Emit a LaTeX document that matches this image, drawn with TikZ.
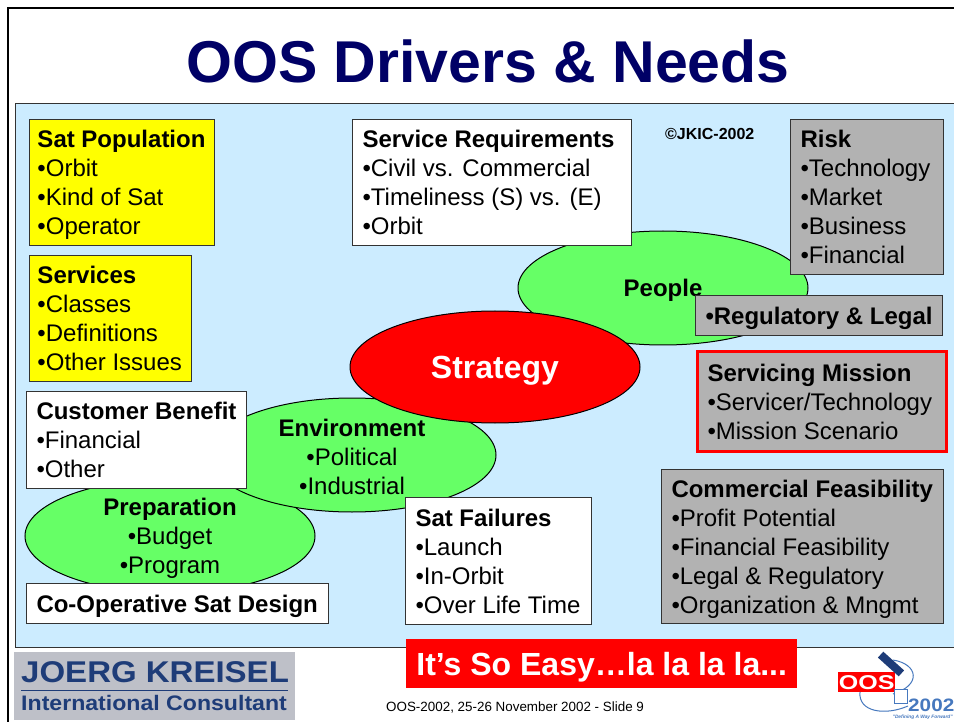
\documentclass[tikz,border=0pt]{standalone}
\usepackage{fontspec}
\setmainfont{Liberation Sans}
\usetikzlibrary{shapes.geometric,positioning}
\definecolor{panelblue}{RGB}{204,236,255}
\definecolor{slidegreen}{RGB}{102,255,102}
\definecolor{slideyellow}{RGB}{255,255,0}
\definecolor{boxgray}{RGB}{178,178,178}
\definecolor{titlenavy}{RGB}{0,0,102}
\definecolor{logogray}{RGB}{190,192,200}
\definecolor{logoblue}{RGB}{30,60,120}
\definecolor{oosblue}{RGB}{70,120,190}
\newcommand{\bodyfont}{\fontsize{24}{29}\selectfont}
\newcommand{\boxhead}[2]{\makebox[#1][l]{\textbf{#2}}}
\begin{document}
\begin{tikzpicture}[ x=1pt,y=-1pt,
            every node/.style={inner sep=0pt,font=\bodyfont},
            textbox/.style={draw=black!80,line width=1pt,anchor=north west,align=left,
              inner xsep=10pt,text depth=0pt},
            yellowbox/.style={textbox,fill=slideyellow,inner xsep=8pt},
            whitebox/.style={textbox,fill=white},
            graybox/.style={textbox,fill=boxgray},
            oval/.style={ellipse,draw=black,line width=1pt,fill=slidegreen},
            ovaltext/.style={align=center,yshift=-2pt}
            ]
            \useasboundingbox (0,0) rectangle (954,722);
            \clip (0,0) rectangle (954,722);
            \fill[white] (0,0) rectangle (954,722);
            \draw[line width=2pt] (8,730) -- (8,8) -- (960,8);
            \node (title) at (488,61) {\fontsize{59}{60}\selectfont\bfseries\color{titlenavy}OOS Drivers \& Needs};
            \node[draw=black!80,line width=1.2pt,fill=panelblue,anchor=north west,minimum width=960pt,minimum height=544pt] (panel) at (15,103) {};
            % ovals, back to front
            \node[oval,minimum width=290pt,minimum height=114pt] (people) at (663,288) {};
            \node[ovaltext] (peopletext) at (people) {\textbf{People}};
            \node[oval,minimum width=290pt,minimum height=114pt] (preparation) at (170,536) {};
            \node[oval,minimum width=288pt,minimum height=114pt] (environment) at (352,455) {};
            \node[ovaltext] (preparationtext) at (preparation) {\textbf{Preparation}\\•Budget\\•Program};
            \node[ovaltext] (environmenttext) at (environment) {\textbf{Environment}\\•Political\\•Industrial};
            \node[oval,fill=red,minimum width=290pt,minimum height=112pt] (strategy) at (495,367) {};
            \node[ovaltext,yshift=-2pt,text=white,font=\fontsize{32}{34}\selectfont\bfseries] (strategytext) at (strategy) {Strategy};
            % left column
            \node[yellowbox,minimum height=126pt] (population) at (29,119) {\boxhead{169pt}{Sat Population}\\•Orbit\\•Kind of Sat\\•Operator};
            \node[yellowbox,minimum height=126pt] (services) at (29,255) {\boxhead{146pt}{Services}\\•Classes\\•Definitions\\•Other Issues};
            \node[whitebox,minimum height=97pt] (benefit) at (26,391) {\boxhead{200pt}{Customer Benefit}\\•Financial\\•Other};
            \node[whitebox,minimum height=40pt] (design) at (26,583) {\boxhead{282pt}{Co-Operative Sat Design}};
            % middle
            \node[whitebox,minimum height=126pt] (requirements) at (352,119) {\boxhead{259pt}{Service Requirements}\\•Civil vs. Commercial\\•Timeliness (S) vs. (E)\\•Orbit};
            \node[whitebox,minimum height=127pt] (failures) at (405,497) {\boxhead{166pt}{Sat Failures}\\•Launch\\•In-Orbit\\•Over Life Time};
            \node[anchor=west,font=\fontsize{16}{18}\selectfont\bfseries] (copyright) at (665,134) {©JKIC-2002};
            % right column
            \node[graybox,minimum height=155pt] (risk) at (790,119) {\boxhead{133pt}{Risk}\\•Technology\\•Market\\•Business\\•Financial};
            \node[graybox,minimum height=40pt] (regulatory) at (695,295) {\boxhead{227pt}{•Regulatory \& Legal}};
            \node[graybox,draw=red,line width=3pt,minimum height=100pt] (mission) at (696,350) {\boxhead{229pt}{Servicing Mission}\\•Servicer/Technology\\•Mission Scenario};
            \node[graybox,minimum height=154pt] (feasibility) at (661,469) {\boxhead{262pt}{Commercial Feasibility}\\•Profit Potential\\•Financial Feasibility\\•Legal \& Regulatory\\•Organization \& Mngmt};
            % footer
            \node[fill=red,text=white,anchor=north west,minimum width=391pt,minimum height=49pt,text height=23pt,text depth=0pt,font=\fontsize{32}{34}\selectfont\bfseries] (easy) at (406,639) {It’s So Easy…la la la la...};
            \node[anchor=west,font=\fontsize{13.4}{15}\selectfont] (slideno) at (386,707) {OOS-2002, 25-26 November 2002 -  Slide 9};
            \node[fill=logogray,anchor=north west,minimum width=281pt,minimum height=68pt] (logo) at (14,652) {};
            \node[anchor=west,text=logoblue,xscale=1.1,font=\fontsize{30}{32}\selectfont\bfseries] (kreisel) at (21,672) {JOERG KREISEL};
            \node[anchor=west,text=logoblue,xscale=1.1,font=\fontsize{21}{23}\selectfont\bfseries] (consultant) at (21,703) {International Consultant};
            \coordinate (rulea) at (21,690);
            \coordinate (ruleb) at (288,690);
            \draw[logoblue,line width=1pt] (rulea) -- (ruleb);
            % small logo
            \draw[oosblue,line width=1pt] (893,660) .. controls (918,664) and (922,685) .. (893,694);
            \draw[oosblue,line width=1pt] (860,692) .. controls (858,712) and (885,716) .. (908,706);
            \node[fill=red,anchor=north west,minimum width=57pt,minimum height=20pt] (oos) at (838,672) {};
            \node[text=white,xscale=1.25,font=\fontsize{20}{20}\selectfont\bfseries] (oostext) at (oos) {OOS};
            \node[fill=logoblue,rotate=-42,minimum width=28pt,minimum height=8pt] (satellite) at (891,664) {};
            \node[draw=oosblue,fill=white,line width=1pt,minimum width=13pt,minimum height=14pt] (dish) at (901,696) {};
            \node[anchor=west,text=oosblue,xscale=1.15,font=\fontsize{18}{18}\selectfont\bfseries] (oosyear) at (908,705) {2002};
            \node[anchor=east,text=oosblue,font=\fontsize{4.8}{6}\selectfont\bfseries\itshape] (tagline) at (953,717) {"Defining A Way Forward"};
          \end{tikzpicture}
\end{document}
